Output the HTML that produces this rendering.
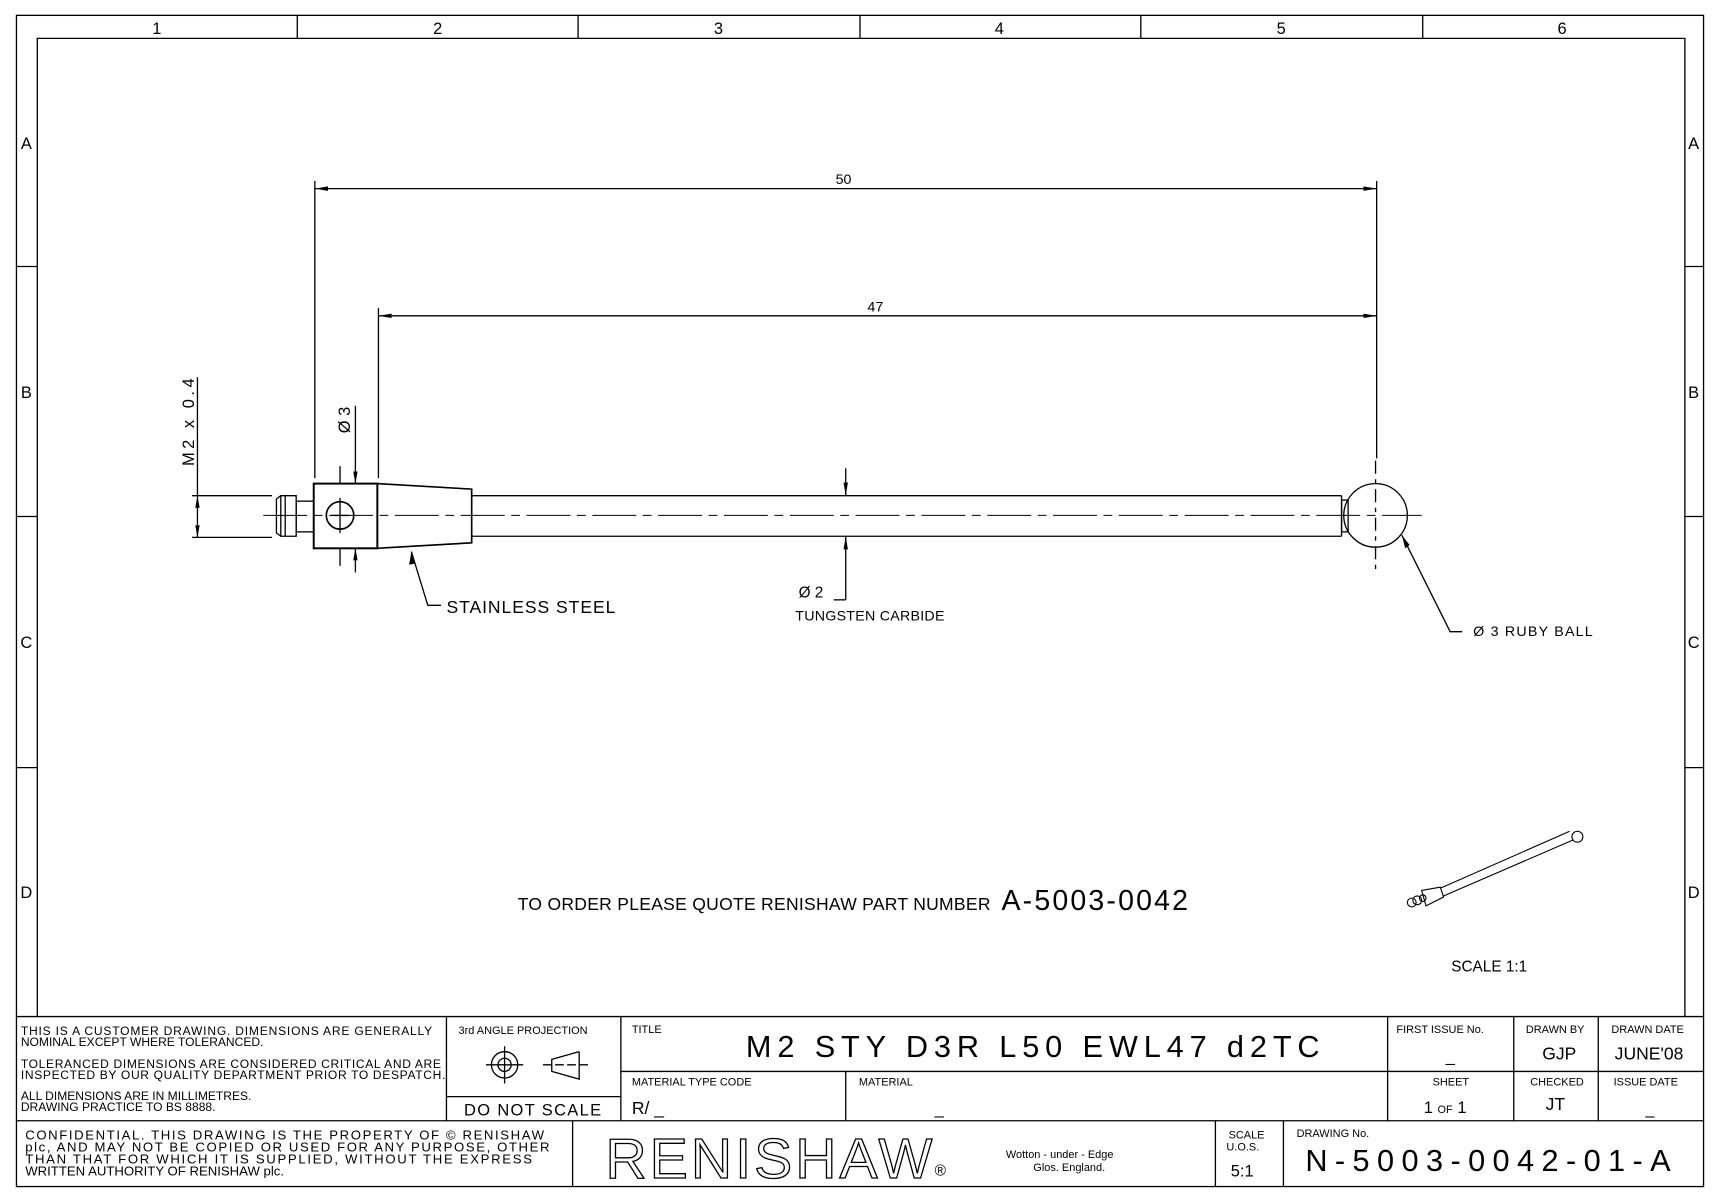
<!DOCTYPE html>
<html><head><meta charset="utf-8"><style>
html,body{margin:0;padding:0;background:#fff;}
svg{display:block;}
text{font-family:"Liberation Sans Narrow","Liberation Sans",sans-serif;fill:#000;}
</style></head><body>
<svg width="1720" height="1203" viewBox="0 0 1568 1097" preserveAspectRatio="none" xmlns="http://www.w3.org/2000/svg">
<rect width="1568" height="1097" fill="#fff"/>
<g stroke="#000" fill="none" stroke-width="1.2">
<rect x="15" y="14" width="1538" height="1068"/>
<polyline points="34,927 34,35 1536,35 1536,927"/>
<line x1="271" y1="14" x2="271" y2="35"/><line x1="527" y1="14" x2="527" y2="35"/>
<line x1="784" y1="14" x2="784" y2="35"/><line x1="1040" y1="14" x2="1040" y2="35"/>
<line x1="1297" y1="14" x2="1297" y2="35"/>
<line x1="15" y1="243" x2="34" y2="243"/><line x1="15" y1="471" x2="34" y2="471"/><line x1="15" y1="700" x2="34" y2="700"/>
<line x1="1536" y1="243" x2="1553" y2="243"/><line x1="1536" y1="471" x2="1553" y2="471"/><line x1="1536" y1="700" x2="1553" y2="700"/>
<line x1="15" y1="927" x2="1553" y2="927"/>
<line x1="407" y1="927" x2="407" y2="1022"/>
<line x1="566" y1="927" x2="566" y2="1022"/>
<line x1="407" y1="1000" x2="566" y2="1000"/>
<line x1="566" y1="977" x2="1553" y2="977"/>
<line x1="771" y1="977" x2="771" y2="1022"/>
<line x1="1265" y1="927" x2="1265" y2="1022"/>
<line x1="1380" y1="927" x2="1380" y2="1022"/>
<line x1="1457" y1="927" x2="1457" y2="1022"/>
<line x1="15" y1="1022" x2="1553" y2="1022"/>
<line x1="522" y1="1022" x2="522" y2="1082"/>
<line x1="1108" y1="1022" x2="1108" y2="1082"/>
<line x1="1170" y1="1022" x2="1170" y2="1082"/>
<circle cx="460" cy="971" r="12"/><circle cx="460" cy="971" r="6"/>
<line x1="443" y1="971" x2="477" y2="971"/><line x1="460" y1="954" x2="460" y2="988"/>
<polyline points="528,959 503,966 503,977 528,984 528,959"/>
<line x1="495" y1="971" x2="538" y2="971" stroke-dasharray="8,3"/>
<line x1="240" y1="470" x2="1296" y2="470" stroke-width="0.9" stroke-dasharray="40,6,8,6"/>
<path d="M252,455 L256,452 L270,452 L270,489 L256,489 L252,486 Z"/>
<line x1="256" y1="452" x2="256" y2="489"/><line x1="260" y1="452" x2="260" y2="489"/>
<rect x="270" y="457" width="16" height="28"/>
<rect x="286" y="441" width="58" height="59" stroke-width="1.8"/>
<circle cx="310" cy="470" r="12.5" stroke-width="1.5"/>
<line x1="302" y1="470" x2="318" y2="470"/><line x1="310" y1="454" x2="310" y2="486"/>
<line x1="310" y1="425" x2="310" y2="441"/><line x1="310" y1="500" x2="310" y2="516"/>
<path d="M344,441 L430,446 L430,495 L344,500" stroke-width="1.5"/>
<line x1="430" y1="452" x2="1223" y2="452"/><line x1="430" y1="489" x2="1223" y2="489"/>
<line x1="1223" y1="452" x2="1223" y2="489"/>
<rect x="1223" y="456" width="6" height="29"/>
<circle cx="1254" cy="470" r="29"/>
<line x1="1254" y1="420" x2="1254" y2="520" stroke-dasharray="12,5,4,5"/>
<line x1="287" y1="165" x2="287" y2="436"/>
<line x1="1255" y1="165" x2="1255" y2="418"/>
<line x1="345" y1="281" x2="345" y2="436"/>
<line x1="287" y1="172" x2="1255" y2="172"/>
<line x1="345" y1="288" x2="1255" y2="288"/>
<line x1="175" y1="452" x2="248" y2="452"/><line x1="175" y1="490" x2="248" y2="490"/>
<line x1="180" y1="344" x2="180" y2="490"/>
<line x1="324" y1="370" x2="324" y2="441"/><line x1="324" y1="500" x2="324" y2="522"/>
<line x1="771" y1="427" x2="771" y2="452"/><line x1="771" y1="489" x2="771" y2="547"/>
<line x1="760" y1="547" x2="771" y2="547"/>
<polyline points="375,503 390,552 402,552"/>
<polyline points="1278,488 1322,576 1333,576"/>
</g>
<g fill="#000">
<polygon points="287,172 299,170 299,174"/><polygon points="1255,172 1243,170 1243,174"/>
<polygon points="345,288 357,286 357,290"/><polygon points="1255,288 1243,286 1243,290"/>
<polygon points="180,452 178,463 182,463"/><polygon points="180,490 178,479 182,479"/>
<polygon points="324,441 322,430 326,430"/><polygon points="324,500 322,511 326,511"/>
<polygon points="771,452 769,440 773,440"/><polygon points="771,489 769,501 773,501"/>
<polygon points="375,503 373,515 378,514"/>
<polygon points="1278,488 1281,500 1285,497"/>
</g>
<g stroke="#000" fill="none" stroke-width="1">
<line x1="1313" y1="810" x2="1431" y2="758"/><line x1="1316" y1="817" x2="1434" y2="766"/>
<path d="M1296,812 L1313,809 L1316,818 L1300,826 Z"/>
<circle cx="1438" cy="763" r="5"/>
<circle cx="1287" cy="823" r="4"/><circle cx="1292" cy="821" r="4"/><circle cx="1297" cy="819" r="3"/>
</g>
<g font-size="15" text-anchor="middle">
<text x="143" y="31">1</text><text x="399" y="31">2</text><text x="655" y="31">3</text>
<text x="911" y="31">4</text><text x="1168" y="31">5</text><text x="1424" y="31">6</text>
<text x="24" y="136">A</text><text x="24" y="363">B</text><text x="24" y="591">C</text><text x="24" y="819">D</text>
<text x="1544" y="136">A</text><text x="1544" y="363">B</text><text x="1544" y="591">C</text><text x="1544" y="819">D</text>
</g>
<g font-size="13">
<text x="769" y="168" text-anchor="middle">50</text>
<text x="798" y="284" text-anchor="middle">47</text>
<text transform="translate(177,385) rotate(-90)" text-anchor="middle" font-size="15" textLength="80">M2 x 0.4</text>
<text transform="translate(319,383) rotate(-90)" text-anchor="middle" font-size="15">Ø 3</text>
<text x="728" y="545" font-size="14">Ø 2</text>
<text x="725" y="566" font-size="13" textLength="136">TUNGSTEN CARBIDE</text>
<text x="407" y="559" font-size="16" textLength="154">STAINLESS STEEL</text>
<text x="1343" y="580" textLength="109">Ø 3 RUBY BALL</text>
<text x="472" y="830" font-size="16" textLength="431">TO ORDER PLEASE QUOTE RENISHAW PART NUMBER</text>
<text x="913" y="830" font-size="26" textLength="170">A-5003-0042</text>
<text x="1323" y="886" font-size="14">SCALE 1:1</text>
</g>
<g font-size="11">
<text x="19" y="944" textLength="375">THIS IS A CUSTOMER DRAWING. DIMENSIONS ARE GENERALLY</text>
<text x="19" y="954">NOMINAL EXCEPT WHERE TOLERANCED.</text>
<text x="19" y="974" textLength="383">TOLERANCED DIMENSIONS ARE CONSIDERED CRITICAL AND ARE</text>
<text x="19" y="984" textLength="387">INSPECTED BY OUR QUALITY DEPARTMENT PRIOR TO DESPATCH.</text>
<text x="19" y="1003">ALL DIMENSIONS ARE IN MILLIMETRES.</text>
<text x="19" y="1013">DRAWING PRACTICE TO BS 8888.</text>
<text x="418" y="943" font-size="10">3rd ANGLE PROJECTION</text>
<text x="423" y="1017" font-size="15" textLength="125">DO NOT SCALE</text>
<text x="576" y="942" font-size="10">TITLE</text>
<text x="680" y="964" font-size="28" textLength="523">M2 STY D3R L50 EWL47 d2TC</text>
<text x="576" y="990" font-size="10">MATERIAL TYPE CODE</text>
<text x="576" y="1016" font-size="16">R/ _</text>
<text x="783" y="990" font-size="10">MATERIAL</text>
<text x="852" y="1016" font-size="15">_</text>
<text x="1273" y="942" font-size="10">FIRST ISSUE No.</text>
<text x="1318" y="968" font-size="15">_</text>
<text x="1391" y="942" font-size="10">DRAWN BY</text>
<text x="1406" y="966" font-size="16">GJP</text>
<text x="1469" y="942" font-size="10">DRAWN DATE</text>
<text x="1472" y="966" font-size="16">JUNE'08</text>
<text x="1306" y="990" font-size="10">SHEET</text>
<text x="1298" y="1015" font-size="15">1 <tspan font-size="10">OF</tspan> 1</text>
<text x="1395" y="990" font-size="10">CHECKED</text>
<text x="1409" y="1012" font-size="16">JT</text>
<text x="1471" y="990" font-size="10">ISSUE DATE</text>
<text x="1500" y="1016" font-size="15">_</text>
<text x="23" y="1039" font-size="12" textLength="473">CONFIDENTIAL. THIS DRAWING IS THE PROPERTY OF © RENISHAW</text>
<text x="23" y="1050" font-size="12" textLength="478">plc, AND MAY NOT BE COPIED OR USED FOR ANY PURPOSE, OTHER</text>
<text x="23" y="1061" font-size="12" textLength="462">THAN THAT FOR WHICH IT IS SUPPLIED, WITHOUT THE EXPRESS</text>
<text x="23" y="1072" font-size="12">WRITTEN AUTHORITY OF RENISHAW plc.</text>
<text x="552" y="1074" font-size="52" textLength="298" stroke="#000" stroke-width="1.2" style="fill:#fff">RENISHAW</text>
<text x="852" y="1072" font-size="14">®</text>
<text x="917" y="1056" font-size="10">Wotton - under - Edge</text>
<text x="942" y="1068" font-size="10">Glos. England.</text>
<text x="1120" y="1038" font-size="10">SCALE</text>
<text x="1118" y="1049" font-size="10">U.O.S.</text>
<text x="1122" y="1073" font-size="15">5:1</text>
<text x="1182" y="1037" font-size="10">DRAWING No.</text>
<text x="1190" y="1068" font-size="28" textLength="333">N-5003-0042-01-A</text>
</g>
</svg>
</body></html>
